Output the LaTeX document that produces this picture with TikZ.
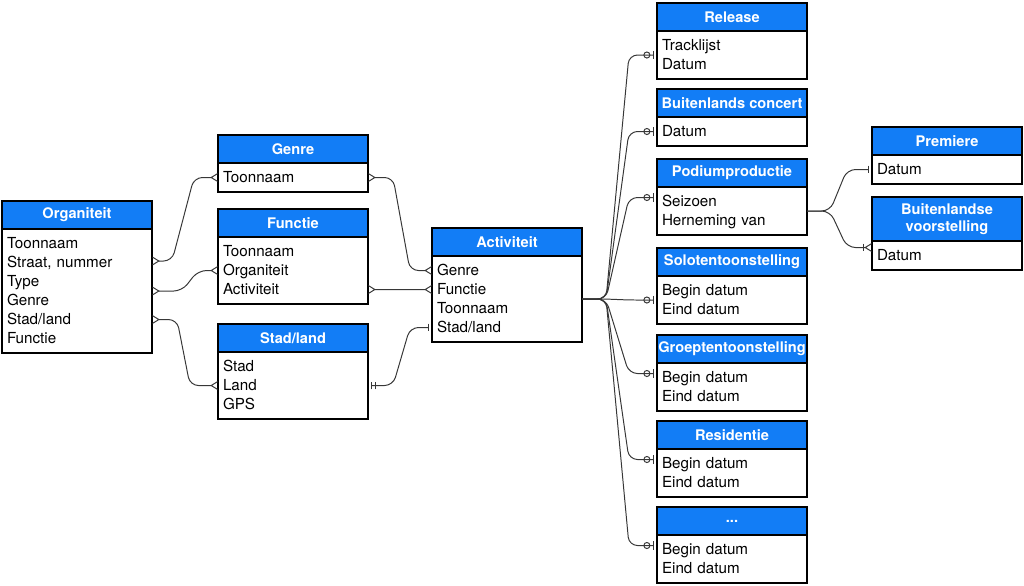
\documentclass[tikz,border=0pt]{standalone}
\usepackage{fontspec}
\setmainfont{TeX Gyre Heros}
\usetikzlibrary{arrows.meta,positioning,fit}
\definecolor{erblue}{RGB}{18,125,246}
\definecolor{linkgray}{RGB}{55,55,55}

\begin{document}
\begin{tikzpicture}[
    x=0.025cm, y=-0.025cm,
    font=\fontsize{10.8}{13}\selectfont,
    head/.style={rectangle, draw=black, fill=erblue, text=white, line width=0.9pt, minimum width=3.75cm, minimum height=0.7cm, anchor=north west, inner sep=0pt, outer sep=0pt, align=center, font=\fontsize{10.4}{12.5}\selectfont\bfseries},
    row/.style={rectangle, text width=3.5cm, inner xsep=0.125cm, inner ysep=0pt, minimum height=0.475cm, outer sep=0pt, align=left, text height=9pt, text depth=1.5pt},
    body/.style={rectangle, draw=black, line width=0.9pt, inner xsep=0pt, inner ysep=0.125cm, outer sep=0pt},
    link/.style={draw=linkgray, line width=0.7pt, rounded corners=6pt},
    crow/.tip={Straight Barb[reversed, length=4.5pt, width=5.5pt]},
    zo/.tip={Circle[open, length=5pt, sep=1.5pt] Bar[width=6pt, sep=2.5pt]}
]
    \useasboundingbox (0,0) rectangle (1024,585);

    % Organiteit
    \node[head] (org) at (2,201) {Organiteit};
    \node[row, below=0.125cm of org] (org1) {Toonnaam};
    \node[row, below=0pt of org1] (org2) {Straat, nummer};
    \node[row, below=0pt of org2] (org3) {Type};
    \node[row, below=0pt of org3] (org4) {Genre};
    \node[row, below=0pt of org4] (org5) {Stad/land};
    \node[row, below=0pt of org5] (org6) {Functie};
    \node[body, fit=(org1)(org6)] (orgb) {};

    % Genre, Functie, Stad/land
    \node[head] (gen) at (218,135) {Genre};
    \node[row, below=0.125cm of gen] (gen1) {Toonnaam};
    \node[body, fit=(gen1)] (genb) {};

    \node[head] (fun) at (218,209) {Functie};
    \node[row, below=0.125cm of fun] (fun1) {Toonnaam};
    \node[row, below=0pt of fun1] (fun2) {Organiteit};
    \node[row, below=0pt of fun2] (fun3) {Activiteit};
    \node[body, fit=(fun1)(fun3)] (funb) {};

    \node[head] (sta) at (218,324) {Stad/land};
    \node[row, below=0.125cm of sta] (sta1) {Stad};
    \node[row, below=0pt of sta1] (sta2) {Land};
    \node[row, below=0pt of sta2] (sta3) {GPS};
    \node[body, fit=(sta1)(sta3)] (stab) {};

    % Activiteit
    \node[head] (act) at (432,228) {Activiteit};
    \node[row, below=0.125cm of act] (act1) {Genre};
    \node[row, below=0pt of act1] (act2) {Functie};
    \node[row, below=0pt of act2] (act3) {Toonnaam};
    \node[row, below=0pt of act3] (act4) {Stad/land};
    \node[body, fit=(act1)(act4)] (actb) {};

    % soorten activiteit
    \node[head] (rel) at (657,3) {Release};
    \node[row, below=0.125cm of rel] (rel1) {Tracklijst};
    \node[row, below=0pt of rel1] (rel2) {Datum};
    \node[body, fit=(rel1)(rel2)] (relb) {};

    \node[head] (bco) at (657,89) {Buitenlands concert};
    \node[row, below=0.125cm of bco] (bco1) {Datum};
    \node[body, fit=(bco1)] (bcob) {};

    \node[head] (pod) at (657,159) {Podiumproductie};
    \node[row, below=0.125cm of pod] (pod1) {Seizoen};
    \node[row, below=0pt of pod1] (pod2) {Herneming van};
    \node[body, fit=(pod1)(pod2)] (podb) {};

    \node[head] (solo) at (657,248) {Solotentoonstelling};
    \node[row, below=0.125cm of solo] (solo1) {Begin datum};
    \node[row, below=0pt of solo1] (solo2) {Eind datum};
    \node[body, fit=(solo1)(solo2)] (solob) {};

    \node[head] (gro) at (657,335) {Groeptentoonstelling};
    \node[row, below=0.125cm of gro] (gro1) {Begin datum};
    \node[row, below=0pt of gro1] (gro2) {Eind datum};
    \node[body, fit=(gro1)(gro2)] (grob) {};

    \node[head] (res) at (657,421) {Residentie};
    \node[row, below=0.125cm of res] (res1) {Begin datum};
    \node[row, below=0pt of res1] (res2) {Eind datum};
    \node[body, fit=(res1)(res2)] (resb) {};

    \node[head] (etc) at (657,507) {...};
    \node[row, below=0.125cm of etc] (etc1) {Begin datum};
    \node[row, below=0pt of etc1] (etc2) {Eind datum};
    \node[body, fit=(etc1)(etc2)] (etcb) {};

    % Podiumproductie
    \node[head] (pre) at (872,127) {Premiere};
    \node[row, below=0.125cm of pre] (pre1) {Datum};
    \node[body, fit=(pre1)] (preb) {};

    \node[head, minimum height=1.1cm] (bvo) at (872,197) {Buitenlandse\\voorstelling};
    \node[row, below=0.125cm of bvo] (bvo1) {Datum};
    \node[body, fit=(bvo1)] (bvob) {};

    % relaties
    \draw[link, crow-crow] ([yshift=0.75cm]orgb.east) -- ++(20,0) -- ([xshift=-0.6cm]gen1.west) -- (gen1.west);
    \draw[link, crow-crow] (orgb.east) -- ++(30,0) -- ([xshift=-0.5cm]fun2.west) -- (fun2.west);
    \draw[link, crow-crow] (org5.east) -- ++(25,0) -- ([xshift=-0.7cm]sta2.west) -- (sta2.west);

    \draw[link, crow-crow] (gen1.east) -- ++(25,0) -- ([xshift=-0.55cm]act1.west) -- (act1.west);
    \draw[link, crow-crow] (fun3.east) -- (act2.west);
    \draw[link, {Bar[width=5.5pt,sep=2pt]Bar[width=5.5pt,sep=2pt]}-{Bar[width=5.5pt,sep=2pt]}] (sta2.east) -- ++(25,0) -- ([xshift=-0.55cm]act4.west) -- (act4.west);

    \draw[link, -zo] (actb.east) -- ++(24,0) -- ([xshift=-0.7cm]relb.west) -- (relb.west);
    \draw[link, -zo] (actb.east) -- ++(24,0) -- ([xshift=-0.7cm]bcob.west) -- (bcob.west);
    \draw[link, -zo] (actb.east) -- ++(24,0) -- ([xshift=-0.7cm,yshift=0.1cm]pod1.west) -- ([yshift=0.1cm]pod1.west);
    \draw[link, -zo] (actb.east) -- ++(24,0) -- ([xshift=-0.7cm]solob.west) -- (solob.west);
    \draw[link, -zo] (actb.east) -- ++(24,0) -- ([xshift=-0.7cm,yshift=0.1cm]gro1.west) -- ([yshift=0.1cm]gro1.west);
    \draw[link, -zo] (actb.east) -- ++(24,0) -- ([xshift=-0.7cm,yshift=0.1cm]res1.west) -- ([yshift=0.1cm]res1.west);
    \draw[link, -zo] (actb.east) -- ++(24,0) -- ([xshift=-0.7cm,yshift=0.1cm]etc1.west) -- ([yshift=0.1cm]etc1.west);

    \draw[link, -{Bar[width=5.5pt,sep=2pt]}] (podb.east) -- ++(23,0) -- ([xshift=-0.625cm]pre1.west) -- (pre1.west);
    \draw[link, -{Bar[width=5.5pt]crow}] (podb.east) -- ++(23,0) -- ([xshift=-0.625cm,yshift=0.2cm]bvo1.west) -- ([yshift=0.2cm]bvo1.west);
\end{tikzpicture}
\end{document}
